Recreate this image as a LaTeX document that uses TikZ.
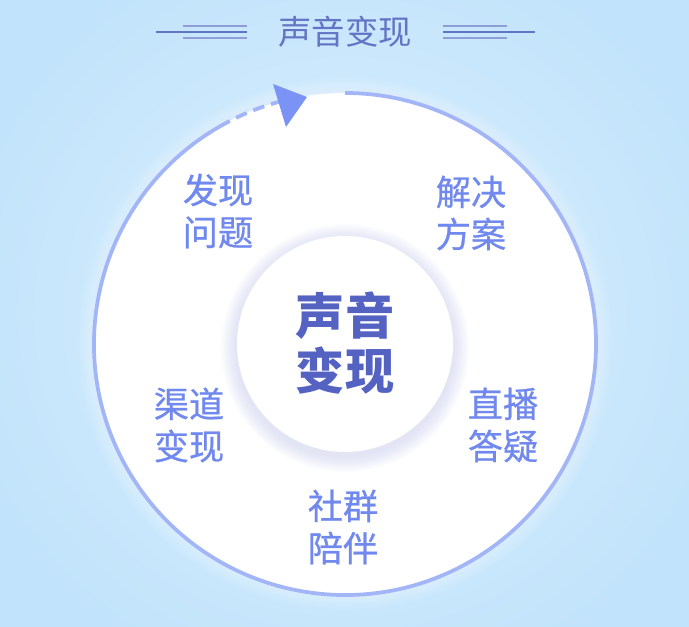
\documentclass[tikz,border=0pt]{standalone}
\usepackage{fontspec}
\newfontfamily\cjk{Noto Sans CJK SC}
\newfontfamily\cjkmed[FakeBold=0.7]{Noto Sans CJK SC}
\usetikzlibrary{arrows.meta}
\definecolor{bgout}{HTML}{C1E3FB}
\definecolor{bgin}{HTML}{DDF0FE}
\definecolor{ringblue}{HTML}{A2B5F6}
\definecolor{arrowblue}{HTML}{7C93F6}
\definecolor{labelblue}{HTML}{7189EE}
\definecolor{coreblue}{HTML}{5462C2}
\definecolor{titleblue}{HTML}{6274C4}
\definecolor{shadowlav}{HTML}{C9CCF5}
\begin{document}
\begin{tikzpicture}[x=0.03cm, y=0.03cm,
    step label/.style={text=labelblue, font=\cjkmed\fontsize{30pt}{36pt}\selectfont, align=center, inner sep=0pt},
    core label/.style={text=coreblue, font=\cjk\bfseries\fontsize{42pt}{47pt}\selectfont, align=center, inner sep=0pt},
    long rule/.style={draw=titleblue, line width=0.9pt},
    short rule/.style={draw=titleblue!70, line width=1.6pt}]
    % Sfondo
    \useasboundingbox (0,0) rectangle (689,627);
    \shade[inner color=bgin, outer color=bgout] (-60,-80) rectangle (749,707);

    % Titolo
    \node[text=titleblue, font=\cjk\fontsize{28.5pt}{30pt}\selectfont, inner sep=0pt] (title) at (345,595) {声音变现};
    \draw[long rule] (156,595) -- (247,595);
    \draw[short rule] (183,601) -- (247,601);
    \draw[short rule] (183,589) -- (247,589);
    \draw[long rule] (443,595) -- (535,595);
    \draw[short rule] (443,601) -- (507,601);
    \draw[short rule] (443,589) -- (507,589);

    % Cerchio esterno
    \foreach \g in {1,...,8}
        \fill[white, opacity=0.05] (345,283) circle (251+2*\g);
    \fill[white] (345,283) circle (251);
    \draw[ringblue, line width=3.2pt] (345,283) ++(120:251) arc (120:450:251);
    \draw[ringblue, line width=3.2pt, dash pattern=on 10pt off 6pt] (345,283) ++(120:251) arc (120:105:251);
    \fill[arrowblue] (273,543) -- (307,530) -- (286,500) -- cycle;

    % Cerchio interno
    \foreach \g in {1,...,10}
        \fill[shadowlav, opacity=0.06] (345,279) circle (108+1.6*\g);
    \fill[white] (345,283) circle (108);
    \node[core label] (core) at (345,284) {声音\\变现};

    % Fasi
    \node[step label] (discover) at (218,416) {发现\\问题};
    \node[step label] (solve) at (471,414) {解决\\方案};
    \node[step label] (live) at (503,202) {直播\\答疑};
    \node[step label] (community) at (343,100) {社群\\陪伴};
    \node[step label] (channel) at (189,202) {渠道\\变现};
\end{tikzpicture}
\end{document}
